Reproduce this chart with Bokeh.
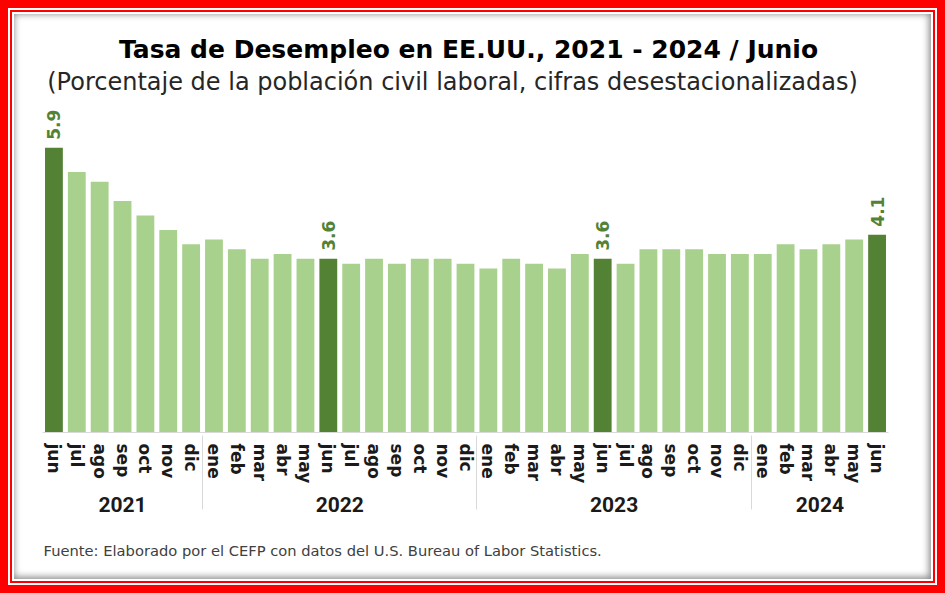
import math
from bokeh.plotting import figure
from bokeh.models import FactorRange, Range1d, Label, Title, ColumnDataSource
from bokeh.embed import file_html
from bokeh.resources import INLINE
from bokeh.core.properties import value

# ---- data ----
years = ["2021"] * 7 + ["2022"] * 12 + ["2023"] * 12 + ["2024"] * 6
months = (["jun", "jul", "ago", "sep", "oct", "nov", "dic"]
          + ["ene", "feb", "mar", "abr", "may", "jun", "jul", "ago", "sep", "oct", "nov", "dic"] * 2
          + ["ene", "feb", "mar", "abr", "may", "jun"])
rates = [5.9, 5.4, 5.2, 4.8, 4.5, 4.2, 3.9,
         4.0, 3.8, 3.6, 3.7, 3.6, 3.6, 3.5, 3.6, 3.5, 3.6, 3.6, 3.5,
         3.4, 3.6, 3.5, 3.4, 3.7, 3.6, 3.5, 3.8, 3.8, 3.8, 3.7, 3.7,
         3.7, 3.9, 3.8, 3.9, 4.0, 4.1]
highlight_month = "jun"

title_text = "Tasa de Desempleo en EE.UU., 2021 - 2024 / Junio"
subtitle_text = "(Porcentaje de la población civil laboral, cifras desestacionalizadas)"
source_text = "Fuente: Elaborado por el CEFP con datos del U.S. Bureau of Labor Statistics."

DARK = "#548235"
LIGHT = "#A9D18E"

factors = list(zip(years, months))
colors = [DARK if m == highlight_month else LIGHT for m in months]

src = ColumnDataSource(dict(x=factors, top=rates, color=colors))
lab = ColumnDataSource(dict(
    x=[f for f, m in zip(factors, months) if m == highlight_month],
    y=[r for r, m in zip(rates, months) if m == highlight_month],
    t=[f"{r:.1f}" for r, m in zip(rates, months) if m == highlight_month],
))

p = figure(x_range=FactorRange(*factors, group_padding=0, range_padding=0),
           y_range=Range1d(0, 8.54), width=945, height=593, title=None,
           output_backend="svg", toolbar_location=None, y_axis_location=None,
           min_border_left=42, min_border_right=57, min_border_top=20, min_border_bottom=161)
p.xgrid.visible = False
p.ygrid.visible = False
p.outline_line_color = None
p.background_fill_color = None
p.border_fill_color = None
p.styles = {
    "background-color": "#ffffff",
    "box-shadow": ("inset 0 0 0 8px #ff0000, inset 0 0 0 10px #ffffff, "
                   "inset 0 0 0 12px #ff0000, inset 0 0 0 14px #ffffff, "
                   "inset -1px -1px 7px 15px #8a8a8a"),
}

p.vbar(x="x", top="top", width=0.78, fill_color="color", line_color=None, source=src)
p.text(x="x", y="y", text="t", angle=math.pi / 2, text_align="left", text_baseline="middle",
       y_offset=-8, text_font=value("DejaVu Sans"), text_font_style="bold",
       text_font_size="17px", text_color=DARK, source=lab)

ax = p.xaxis[0]
ax.major_label_orientation = "vertical"
ax.major_tick_line_color = None
ax.major_tick_out = 0
ax.major_tick_in = 0
ax.major_label_standoff = 11
ax.major_label_text_font = "DejaVu Sans"
ax.major_label_text_font_style = "bold"
ax.major_label_text_font_size = "17px"
ax.major_label_text_color = "#1a1a1a"
ax.group_text_font = "Roboto"
ax.group_text_font_style = "bold"
ax.group_text_font_size = "21px"
ax.group_text_color = "#1a1a1a"
ax.separator_line_color = "#d9d9d9"
ax.separator_line_width = 1
ax.axis_line_color = "#d9d9d9"

# titles inside the frame (screen units relative to frame)
p.add_layout(Label(x=426, y=383, x_units="screen", y_units="screen", text=title_text,
                   text_align="center", text_baseline="alphabetic", text_font="DejaVu Sans",
                   text_font_style="bold", text_font_size="25px", text_color="#000000"))
p.add_layout(Label(x=410, y=351, x_units="screen", y_units="screen", text=subtitle_text,
                   text_align="center", text_baseline="alphabetic", text_font="DejaVu Sans",
                   text_font_size="24px", text_color="#262626"))

# source note below the axis
p.add_layout(Title(text=source_text, align="left", offset=1, standoff=49,
                   text_font="DejaVu Sans", text_font_style="normal",
                   text_font_size="14.7px", text_color="#404040"), "below")

open("out.html", "w").write(file_html(p, INLINE))
